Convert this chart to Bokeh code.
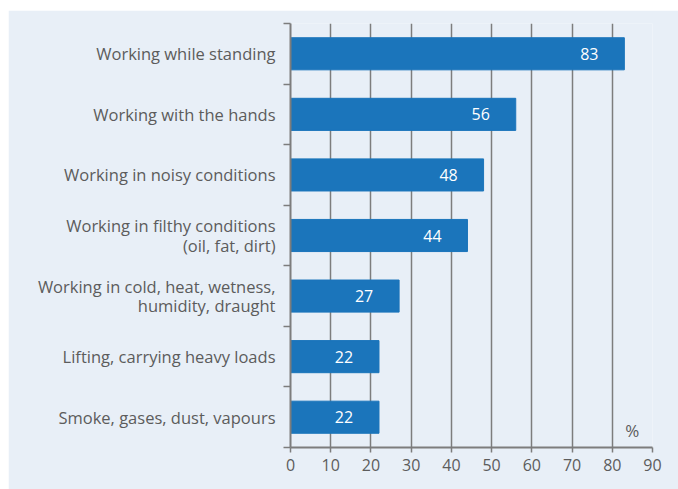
from bokeh.plotting import figure
from bokeh.models import Range1d, FixedTicker, Label, Spacer, ColumnDataSource
from bokeh.layouts import row, column
from bokeh.embed import file_html
from bokeh.resources import INLINE

categories = [
    "Working while standing",
    "Working with the hands",
    "Working in noisy conditions",
    "Working in filthy conditions\n(oil, fat, dirt)",
    "Working in cold, heat, wetness,\nhumidity, draught",
    "Lifting, carrying heavy loads",
    "Smoke, gases, dust, vapours",
]
values = [83, 56, 48, 44, 27, 22, 22]
x_ticks = [0, 10, 20, 30, 40, 50, 60, 70, 80, 90]
unit_label = "%"

BG = "#e8eff7"
BAR = "#1b75bb"
TXT = "#5c5c5c"
AX = "#7d7d7d"
FONT = "Open Sans"

n = len(categories)
ypos = [i + 0.5 for i in range(n)]
src = ColumnDataSource(dict(y=ypos, v=values, lbl=[str(v) for v in values]))

p = figure(width=670, height=479, output_backend="svg", toolbar_location=None,
           x_range=Range1d(0, 90), y_range=Range1d(n, 0),
           background_fill_color=BG, border_fill_color=BG,
           min_border_left=282, min_border_right=26, min_border_top=13, min_border_bottom=42)
p.outline_line_color = None

p.hbar(y="y", right="v", left=0, height=0.53, color=BAR, source=src)
p.text(x="v", y="y", text="lbl", source=src, x_offset=-35, text_align="center",
       text_baseline="middle", text_color="white", text_font_size="16px",
       text_font={"value": FONT})

# grid
p.ygrid.grid_line_color = None
p.xgrid.ticker = FixedTicker(ticks=x_ticks)
p.xgrid.grid_line_color = AX
p.xgrid.grid_line_width = 1.5

# x axis
xa = p.xaxis[0]
xa.ticker = FixedTicker(ticks=x_ticks)
xa.axis_line_color = AX
xa.axis_line_width = 2
xa.major_tick_line_color = AX
xa.major_tick_line_width = 1.5
xa.major_tick_out = 5
xa.major_tick_in = 0
xa.minor_tick_line_color = None
xa.major_label_standoff = 6
xa.major_label_text_font = FONT
xa.major_label_text_font_size = "16px"
xa.major_label_text_color = TXT

# y axis
ya = p.yaxis[0]
ya.ticker = FixedTicker(ticks=ypos, minor_ticks=list(range(n + 1)))
ya.major_label_overrides = {y: c for y, c in zip(ypos, categories)}
ya.axis_line_color = AX
ya.axis_line_width = 2
ya.major_tick_line_color = None
ya.major_tick_out = 0
ya.major_tick_in = 0
ya.minor_tick_line_color = AX
ya.minor_tick_line_width = 1.5
ya.minor_tick_out = 7
ya.minor_tick_in = 0
ya.major_label_standoff = 8
ya.major_label_text_font = FONT
ya.major_label_text_font_size = "16.5px"
ya.major_label_text_color = TXT
ya.major_label_text_align = "right"
ya.major_label_text_line_height = 0.85

p.add_layout(Label(x=85, y=n, text=unit_label, y_offset=6, text_align="center",
                   text_baseline="bottom", text_color=TXT, text_font=FONT,
                   text_font_size="17px"))

layout = column(Spacer(height=10), row(Spacer(width=8), p))
open("out.html", "w").write(file_html(layout, INLINE))
